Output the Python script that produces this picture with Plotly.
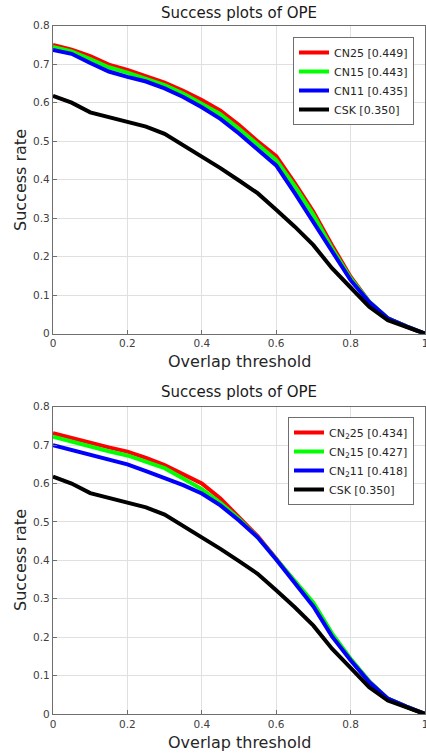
import plotly.graph_objects as go

thresholds = [0.0, 0.05, 0.1, 0.15, 0.2, 0.25, 0.3, 0.35, 0.4, 0.45, 0.5,
              0.55, 0.6, 0.65, 0.7, 0.75, 0.8, 0.85, 0.9, 0.95, 1.0]

# Top chart
cn25 = [0.750, 0.738, 0.721, 0.699, 0.685, 0.669, 0.652, 0.631, 0.607, 0.579, 0.542,
        0.500, 0.461, 0.391, 0.317, 0.230, 0.148, 0.083, 0.040, 0.019, 0.0]
cn15 = [0.745, 0.733, 0.713, 0.692, 0.678, 0.663, 0.646, 0.624, 0.598, 0.570, 0.532,
        0.490, 0.451, 0.383, 0.309, 0.222, 0.144, 0.083, 0.040, 0.019, 0.0]
cn11 = [0.737, 0.727, 0.703, 0.681, 0.667, 0.655, 0.637, 0.615, 0.588, 0.558, 0.520,
        0.478, 0.437, 0.365, 0.291, 0.213, 0.139, 0.082, 0.040, 0.019, 0.0]
csk = [0.618, 0.600, 0.575, 0.563, 0.552, 0.538, 0.519, 0.490, 0.461, 0.430, 0.398,
       0.365, 0.322, 0.278, 0.230, 0.170, 0.120, 0.070, 0.035, 0.017, 0.0]

# Bottom chart
cn2_25 = [0.731, 0.718, 0.706, 0.694, 0.683, 0.667, 0.648, 0.625, 0.600, 0.561, 0.513,
          0.463, 0.404, 0.343, 0.284, 0.205, 0.142, 0.085, 0.040, 0.019, 0.0]
cn2_15 = [0.722, 0.709, 0.696, 0.684, 0.673, 0.657, 0.640, 0.613, 0.585, 0.550, 0.508,
          0.460, 0.404, 0.347, 0.290, 0.210, 0.144, 0.085, 0.040, 0.019, 0.0]
cn2_11 = [0.700, 0.687, 0.674, 0.662, 0.650, 0.632, 0.614, 0.596, 0.574, 0.543, 0.504,
          0.460, 0.402, 0.340, 0.280, 0.202, 0.140, 0.083, 0.040, 0.019, 0.0]

top_names = ["CN25 [0.449]", "CN15 [0.443]", "CN11 [0.435]", "CSK [0.350]"]
bottom_names = ["CN<sub>2</sub>25 [0.434]", "CN<sub>2</sub>15 [0.427]",
                "CN<sub>2</sub>11 [0.418]", "CSK [0.350]"]
colors = ["#ff0000", "#00ff00", "#0000ff", "#000000"]

x_ticks = [0, 0.2, 0.4, 0.6, 0.8, 1]
x_ticktext = ["0", "0.2", "0.4", "0.6", "0.8", "1"]
y_ticks = [0, 0.1, 0.2, 0.3, 0.4, 0.5, 0.6, 0.7, 0.8]
y_ticktext = ["0", "0.1", "0.2", "0.3", "0.4", "0.5", "0.6", "0.7", "0.8"]

FONT = "DejaVu Sans"
W, H = 426, 754
ML, MR, MT, MB = 53, 1, 25, 40
PH = H - MT - MB

def py(pix):
    return 1 - (pix - MT) / PH

def clamp(v):
    return max(0.0, min(1.0, v))

fig = go.Figure()

top_series = [cn25, cn15, cn11, csk]
bottom_series = [cn2_25, cn2_15, cn2_11, csk]

for name, ys, c in zip(top_names, top_series, colors):
    fig.add_trace(go.Scatter(x=thresholds, y=ys, mode="lines", name=name,
                             line=dict(color=c, width=4), xaxis="x", yaxis="y",
                             legend="legend"))
for name, ys, c in zip(bottom_names, bottom_series, colors):
    fig.add_trace(go.Scatter(x=thresholds, y=ys, mode="lines", name=name,
                             line=dict(color=c, width=4), xaxis="x2", yaxis="y2",
                             legend="legend2"))

axis_common = dict(showline=True, linecolor="#6e6e6e", linewidth=1.2, mirror=True,
                   showgrid=True, gridcolor="#e0e0e0", gridwidth=1, zeroline=False,
                   ticks="inside", ticklen=4, tickcolor="#6e6e6e",
                   ticklabeloverflow="allow", automargin=False,
                   tickfont=dict(family=FONT, size=10.5, color="#404040"))

top_dom = [clamp(py(333.7)), clamp(py(25.7))]
bot_dom = [clamp(py(714.3)), clamp(py(406.7))]

fig.update_layout(
    width=W, height=H,
    margin=dict(l=ML, r=MR, t=MT, b=MB, autoexpand=False),
    paper_bgcolor="white", plot_bgcolor="white",
    font=dict(family=FONT),
    showlegend=True,
    xaxis=dict(domain=[0, 1], anchor="y", range=[0, 1], tickvals=x_ticks,
               ticktext=x_ticktext, **axis_common),
    yaxis=dict(domain=top_dom, anchor="x", range=[0, 0.8], tickvals=y_ticks,
               ticktext=y_ticktext, **axis_common),
    xaxis2=dict(domain=[0, 1], anchor="y2", range=[0, 1], tickvals=x_ticks,
                ticktext=x_ticktext, **axis_common),
    yaxis2=dict(domain=bot_dom, anchor="x2", range=[0, 0.8], tickvals=y_ticks,
                ticktext=y_ticktext, **axis_common),
    legend=dict(x=(414 - ML) / (W - ML - MR), y=py(37), xanchor="right", yanchor="top",
                bgcolor="white", bordercolor="#6e6e6e", borderwidth=1,
                font=dict(family=FONT, size=11, color="#262626"),
                tracegroupgap=0, itemwidth=30),
    legend2=dict(x=(414 - ML) / (W - ML - MR), y=py(417), xanchor="right", yanchor="top",
                 bgcolor="white", bordercolor="#6e6e6e", borderwidth=1,
                 font=dict(family=FONT, size=11, color="#262626"),
                 tracegroupgap=0, itemwidth=30),
)

ann = []
for ty, xy, yc in [(13, 361, 180), (392, 742, 560)]:
    ann.append(dict(text="Success plots of OPE", x=239, y=ty, xref="paper", yref="paper",
                    showarrow=False, font=dict(family=FONT, size=15, color="#1a1a1a")))
    ann.append(dict(text="Overlap threshold", x=239, y=xy, xref="paper", yref="paper",
                    showarrow=False, font=dict(family=FONT, size=16, color="#262626")))
    ann.append(dict(text="Success rate", x=20, y=yc, xref="paper", yref="paper",
                    showarrow=False, textangle=-90,
                    font=dict(family=FONT, size=16, color="#262626")))
for a in ann:
    a["x"] = (a["x"] - ML) / (W - ML - MR)
    a["y"] = py(a["y"])
    a["xanchor"] = "center"
    a["yanchor"] = "middle"
fig.update_layout(annotations=ann)

fig.write_html("out.html")
